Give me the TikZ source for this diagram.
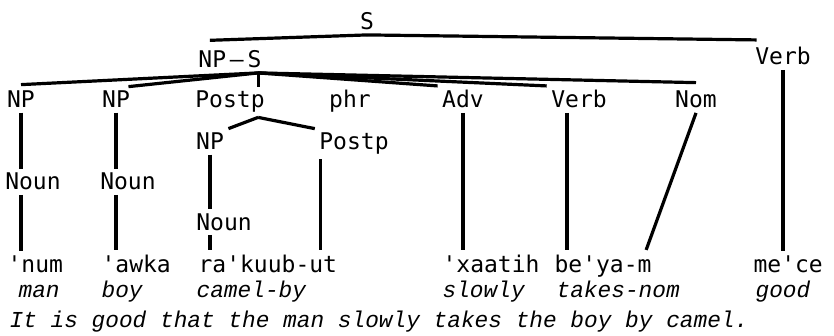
\documentclass[tikz,border=0pt]{standalone}
\usepackage{fontspec}
\usepackage{tikz}
\usetikzlibrary{positioning}
\newfontfamily\catfont{DejaVu Sans Mono}[Ligatures=TeXOff]
\newfontfamily\glossfont{Liberation Mono}[Ligatures=TeXOff]

\begin{document}
\begin{tikzpicture}[-,x=0.5pt,y=-0.5pt,line width=1.6pt,inner sep=1.5pt]
  \tikzstyle{cat}=[font={\catfont\fontsize{11.5}{13}\selectfont},anchor=base]
  \tikzstyle{word}=[font={\catfont\fontsize{11.5}{13}\selectfont},anchor=base west]
  \tikzstyle{gloss}=[font={\glossfont\itshape\fontsize{11.4}{13}\selectfont},anchor=base west]

  \useasboundingbox (0,0) rectangle (834,336);

  \node[cat] (S)     at (367,30)  {S};
  \node[cat] (NPS)   at (230,68)  {NP\,—\,S};
  \node[cat] (VerbR) at (783,65)  {Verb};
  \node[cat] (NPa)   at (21,108)  {NP};
  \node[cat] (NPb)   at (116,108) {NP};
  \node[cat] (PP)    at (230,108) {Postp};
  \node[cat] (phr)   at (350,108) {phr};
  \node[cat] (Adv)   at (463,108) {Adv};
  \node[cat] (Verb)  at (579,108) {Verb};
  \node[cat] (Nom)   at (696,108) {Nom};
  \node[cat] (NPc)   at (210,150) {NP};
  \node[cat] (P)     at (354,150) {Postp};
  \node[cat] (Na)    at (33,190)  {Noun};
  \node[cat] (Nb)    at (128,190) {Noun};
  \node[cat] (Nc)    at (224,230) {Noun};

  \node[word] (num)    at (3,272)   {'num};
  \node[word] (awka)   at (97,272)  {'awka};
  \node[word] (rakuub) at (194,272) {ra'kuub-ut};
  \node[word] (xaatih) at (438,272) {'xaatih};
  \node[word] (beya)   at (550,272) {be'ya-m};
  \node[word] (mece)   at (749,272) {me'ce};

  \node[gloss] (man)    at (14,297)  {man};
  \node[gloss] (boy)    at (97,297)  {boy};
  \node[gloss] (camel)  at (192,297) {camel-by};
  \node[gloss] (slowly) at (438,297) {slowly};
  \node[gloss] (takes)  at (552,297) {takes-nom};
  \node[gloss] (good)   at (751,297) {good};
  \node[gloss] (trans)  at (5,327)   {It is good that the man slowly takes the boy by camel.};

  \coordinate (fan)   at ([xshift=-4pt]NPS.south east);
  \coordinate (pp)    at (fan |- PP.south);
  \coordinate (Pfoot) at ([xshift=3pt]P.south west);

  \path (S.south) edge ([xshift=8pt,yshift=3pt]NPS.north west)
        (S.south) edge ([xshift=3pt,yshift=1.5pt]VerbR.north west)
        (fan) edge ([yshift=1pt]NPa.north)
              edge ([xshift=-3pt]NPb.north east)
              edge (fan |- PP.north)
              edge (Adv.north west)
              edge (Verb.north west)
              edge ([yshift=2pt]Nom.north)
        (pp)  edge (NPc.north east)
              edge (P.north west);

  \path (NPa.south) edge (NPa.south |- Na.north)
        (NPa.south |- Na.south) edge (NPa.south |- num.north)
        (NPb.south) edge (NPb.south |- Nb.north)
        (NPb.south |- Nb.south) edge (NPb.south |- awka.north)
        (NPc.south) edge (NPc.south |- Nc.north)
        (NPc.south |- Nc.south) edge (NPc.south |- rakuub.north)
        (Pfoot) edge (Pfoot |- rakuub.north)
        (Adv.south) edge (Adv.south |- xaatih.north)
        ([xshift=-6pt]Verb.south) edge ([xshift=-6pt]Verb.south |- beya.north)
        (Nom.south) edge ([xshift=-5pt]beya.north east)
        (VerbR.south) edge (VerbR.south |- mece.north);
\end{tikzpicture}
\end{document}
